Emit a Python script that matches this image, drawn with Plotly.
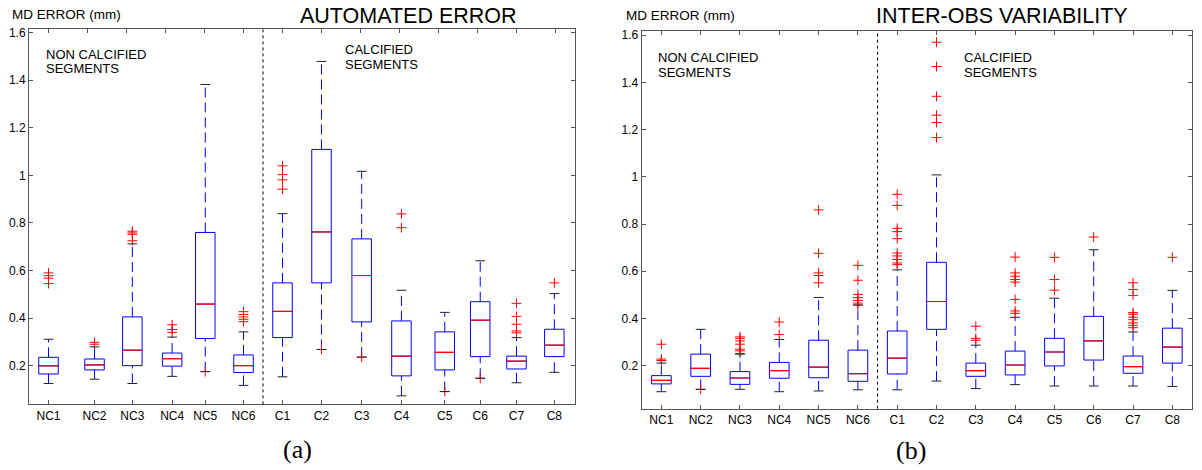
import plotly.graph_objects as go

# ---------------- data ----------------
names = ["NC1", "NC2", "NC3", "NC4", "NC5", "NC6",
         "C1", "C2", "C3", "C4", "C5", "C6", "C7", "C8"]

# Panel (a): AUTOMATED ERROR
a_lo = [0.125, 0.143, 0.125, 0.155, 0.175, 0.117, 0.153, 0.268, 0.236, 0.073, 0.091, 0.147, 0.128, 0.172]
a_q1 = [0.165, 0.182, 0.200, 0.198, 0.314, 0.171, 0.318, 0.548, 0.384, 0.157, 0.182, 0.238, 0.186, 0.238]
a_med = [0.199, 0.203, 0.265, 0.229, 0.459, 0.200, 0.428, 0.762, 0.579, 0.240, 0.256, 0.391, 0.219, 0.286]
a_q3 = [0.235, 0.228, 0.405, 0.253, 0.760, 0.245, 0.548, 1.109, 0.733, 0.388, 0.342, 0.469, 0.240, 0.353]
a_hi = [0.311, 0.279, 0.712, 0.320, 1.382, 0.342, 0.839, 1.479, 1.017, 0.517, 0.424, 0.641, 0.318, 0.503]
a_out = [
    [0.590, 0.578, 0.568, 0.545],
    [0.298, 0.290],
    [0.765, 0.758, 0.752, 0.725],
    [0.372, 0.352, 0.340],
    [0.175],
    [0.427, 0.415, 0.405, 0.395, 0.385],
    [1.040, 1.003, 0.981, 0.942],
    [0.268],
    [0.236],
    [0.838, 0.780],
    [0.091],
    [0.147],
    [0.462, 0.407, 0.374, 0.346, 0.338],
    [0.548],
]

# Panel (b): INTER-OBS VARIABILITY
b_lo = [0.090, 0.100, 0.100, 0.090, 0.093, 0.098, 0.098, 0.135, 0.103, 0.120, 0.114, 0.114, 0.114, 0.112]
b_q1 = [0.123, 0.155, 0.121, 0.147, 0.149, 0.134, 0.165, 0.354, 0.155, 0.161, 0.199, 0.224, 0.168, 0.211]
b_med = [0.138, 0.189, 0.148, 0.179, 0.194, 0.166, 0.232, 0.472, 0.179, 0.203, 0.258, 0.305, 0.196, 0.279]
b_q3 = [0.158, 0.249, 0.175, 0.214, 0.308, 0.266, 0.347, 0.638, 0.211, 0.262, 0.316, 0.409, 0.241, 0.359]
b_hi = [0.211, 0.354, 0.249, 0.311, 0.489, 0.457, 0.606, 1.008, 0.287, 0.405, 0.486, 0.691, 0.343, 0.519]
b_out = [
    [0.291, 0.228, 0.222],
    [0.100],
    [0.322, 0.316, 0.305, 0.291, 0.270, 0.263, 0.252],
    [0.385, 0.332],
    [0.860, 0.676, 0.593, 0.582, 0.551],
    [0.625, 0.562, 0.502, 0.488, 0.476, 0.465, 0.457],
    [0.926, 0.879, 0.782, 0.768, 0.738, 0.677, 0.665, 0.650, 0.635, 0.628],
    [1.570, 1.467, 1.341, 1.261, 1.230, 1.166],
    [0.367, 0.316, 0.308],
    [0.660, 0.593, 0.579, 0.565, 0.554, 0.481, 0.432, 0.422],
    [0.659, 0.565, 0.520],
    [0.745],
    [0.551, 0.523, 0.498, 0.425, 0.418, 0.406, 0.395, 0.381, 0.371, 0.361],
    [0.659],
]

y_ticks = [0.2, 0.4, 0.6, 0.8, 1.0, 1.2, 1.4, 1.6]
y_ticktext = ["0.2", "0.4", "0.6", "0.8", "1", "1.2", "1.4", "1.6"]

# ---------------- layout helpers (positions, not data) ----------------
W, H = 1202, 470
a_pos = [1.0, 2.18, 3.15, 4.17, 5.02, 6.0, 7.0, 8.0, 9.03, 10.05, 11.16, 12.07, 13.0, 13.97]
b_pos = list(range(1, 15))
BOXW = 0.5
CAPW = 0.25
BLUE = "#0000ff"
RED = "#ff0000"
AXC = "#555555"
FONT = "Liberation Sans"
SERIF = "Liberation Serif"


def px(x):
    return x / W


def py(y):
    return 1 - y / H


fig = go.Figure()


def add_panel(pos, lo, q1, med, q3, hi, outs, xa, ya):
    # boxes (quartiles only; whiskers drawn separately, dashed)
    fig.add_trace(go.Box(
        x=pos, q1=q1, median=med, q3=q3, lowerfence=q1, upperfence=q3,
        width=BOXW, whiskerwidth=0, fillcolor="rgba(255,255,255,0)",
        line=dict(color=BLUE, width=1), boxpoints=False,
        xaxis=xa, yaxis=ya, hoverinfo="skip"))
    # whiskers (dashed blue)
    wx, wy = [], []
    for p, l, a, b, h in zip(pos, lo, q1, q3, hi):
        wx += [p, p, None, p, p, None]
        wy += [b, h, None, l, a, None]
    fig.add_trace(go.Scatter(x=wx, y=wy, mode="lines",
                             line=dict(color=BLUE, width=1, dash="10px,5px"),
                             xaxis=xa, yaxis=ya, hoverinfo="skip"))
    # outliers (red +)
    ox, oy = [], []
    for p, o in zip(pos, outs):
        ox += [p] * len(o)
        oy += o
    fig.add_trace(go.Scatter(x=ox, y=oy, mode="markers",
                             marker=dict(symbol="cross-thin", size=7,
                                         line=dict(color=RED, width=1)),
                             xaxis=xa, yaxis=ya, hoverinfo="skip"))
    # whisker caps (black)
    cx, cy = [], []
    for p, l, h in zip(pos, lo, hi):
        cx += [p - CAPW / 2, p + CAPW / 2, None, p - CAPW / 2, p + CAPW / 2, None]
        cy += [h, h, None, l, l, None]
    fig.add_trace(go.Scatter(x=cx, y=cy, mode="lines",
                             line=dict(color="#222222", width=1),
                             xaxis=xa, yaxis=ya, hoverinfo="skip"))
    # medians (red)
    mx, my = [], []
    for p, m in zip(pos, med):
        mx += [p - BOXW / 2, p + BOXW / 2, None]
        my += [m, m, None]
    fig.add_trace(go.Scatter(x=mx, y=my, mode="lines",
                             line=dict(color=RED, width=1.2),
                             xaxis=xa, yaxis=ya, hoverinfo="skip"))


add_panel(a_pos, a_lo, a_q1, a_med, a_q3, a_hi, a_out, "x", "y")
add_panel(b_pos, b_lo, b_q1, b_med, b_q3, b_hi, b_out, "x2", "y2")
# invisible trace for the top tick axis of panel (a)
fig.add_trace(go.Scatter(x=[1], y=[1], mode="markers", opacity=0,
                         xaxis="x3", yaxis="y", hoverinfo="skip"))

xcommon = dict(range=[0.5, 14.5], showgrid=False, zeroline=False,
               showline=True, linecolor=AXC, linewidth=1, ticks="inside",
               ticklen=4, tickcolor=AXC,
               tickfont=dict(family=FONT, size=12, color="black"))
ycommon = dict(showgrid=False, zeroline=False, showline=True, linecolor=AXC,
               linewidth=1, ticks="inside", ticklen=4, tickcolor=AXC,
               mirror="ticks", tickvals=y_ticks, ticktext=y_ticktext,
               tickfont=dict(family=FONT, size=12, color="black"))

fig.update_layout(
    width=W, height=H, margin=dict(l=0, r=0, t=0, b=0),
    paper_bgcolor="white", plot_bgcolor="white", showlegend=False,
    font=dict(family=FONT),
    xaxis=dict(xcommon, domain=[px(29), px(575)], anchor="y", mirror=True,
               tickvals=a_pos, ticktext=names),
    xaxis3=dict(xcommon, overlaying="x", side="top", anchor="y",
                tickvals=list(range(1, 15)), showticklabels=False),
    yaxis=dict(ycommon, domain=[py(404), py(26)], anchor="x",
               range=[0.037, 1.616]),
    xaxis2=dict(xcommon, domain=[px(641.7), px(1192)], anchor="y2",
                mirror="ticks", tickvals=b_pos, ticktext=names),
    yaxis2=dict(ycommon, domain=[py(408.3), py(28.3)], anchor="x2",
                range=[0.018, 1.617]),
)

# dotted separators between non calcified and calcified segments
for xr, yr in (("x", "y domain"), ("x2", "y2 domain")):
    fig.add_shape(type="line", xref=xr, yref=yr, x0=6.5, x1=6.5, y0=0, y1=1,
                  line=dict(color="black", width=1, dash="dot"))


def label(text, x, y, size, xanchor="left", family=FONT):
    fig.add_annotation(text=text, x=px(x), y=py(y), xref="paper", yref="paper",
                       xanchor=xanchor, yanchor="middle", showarrow=False,
                       font=dict(family=family, size=size, color="black"))


label("MD ERROR (mm)", 10, 12, 13.5)
label("AUTOMATED ERROR", 409, 13, 21.5, "center")
label("NON CALCIFIED", 44, 52, 13)
label("SEGMENTS", 44, 66, 13)
label("CALCIFIED", 343, 47, 13)
label("SEGMENTS", 343, 62, 13)

label("MD ERROR (mm)", 624, 13, 13.5)
label("INTER-OBS VARIABILITY", 1001.5, 13, 21.5, "center")
label("NON CALCIFIED", 656, 55, 13)
label("SEGMENTS", 656, 70, 13)
label("CALCIFIED", 962, 55, 13)
label("SEGMENTS", 962, 70, 13)

label("(a)", 297, 449, 26, "center", SERIF)
label("(b)", 911, 450, 26, "center", SERIF)

fig.write_html(
    "out.html",
    config={"displayModeBar": False},
    post_script="document.body.style.margin='0';document.body.style.padding='0';",
)
